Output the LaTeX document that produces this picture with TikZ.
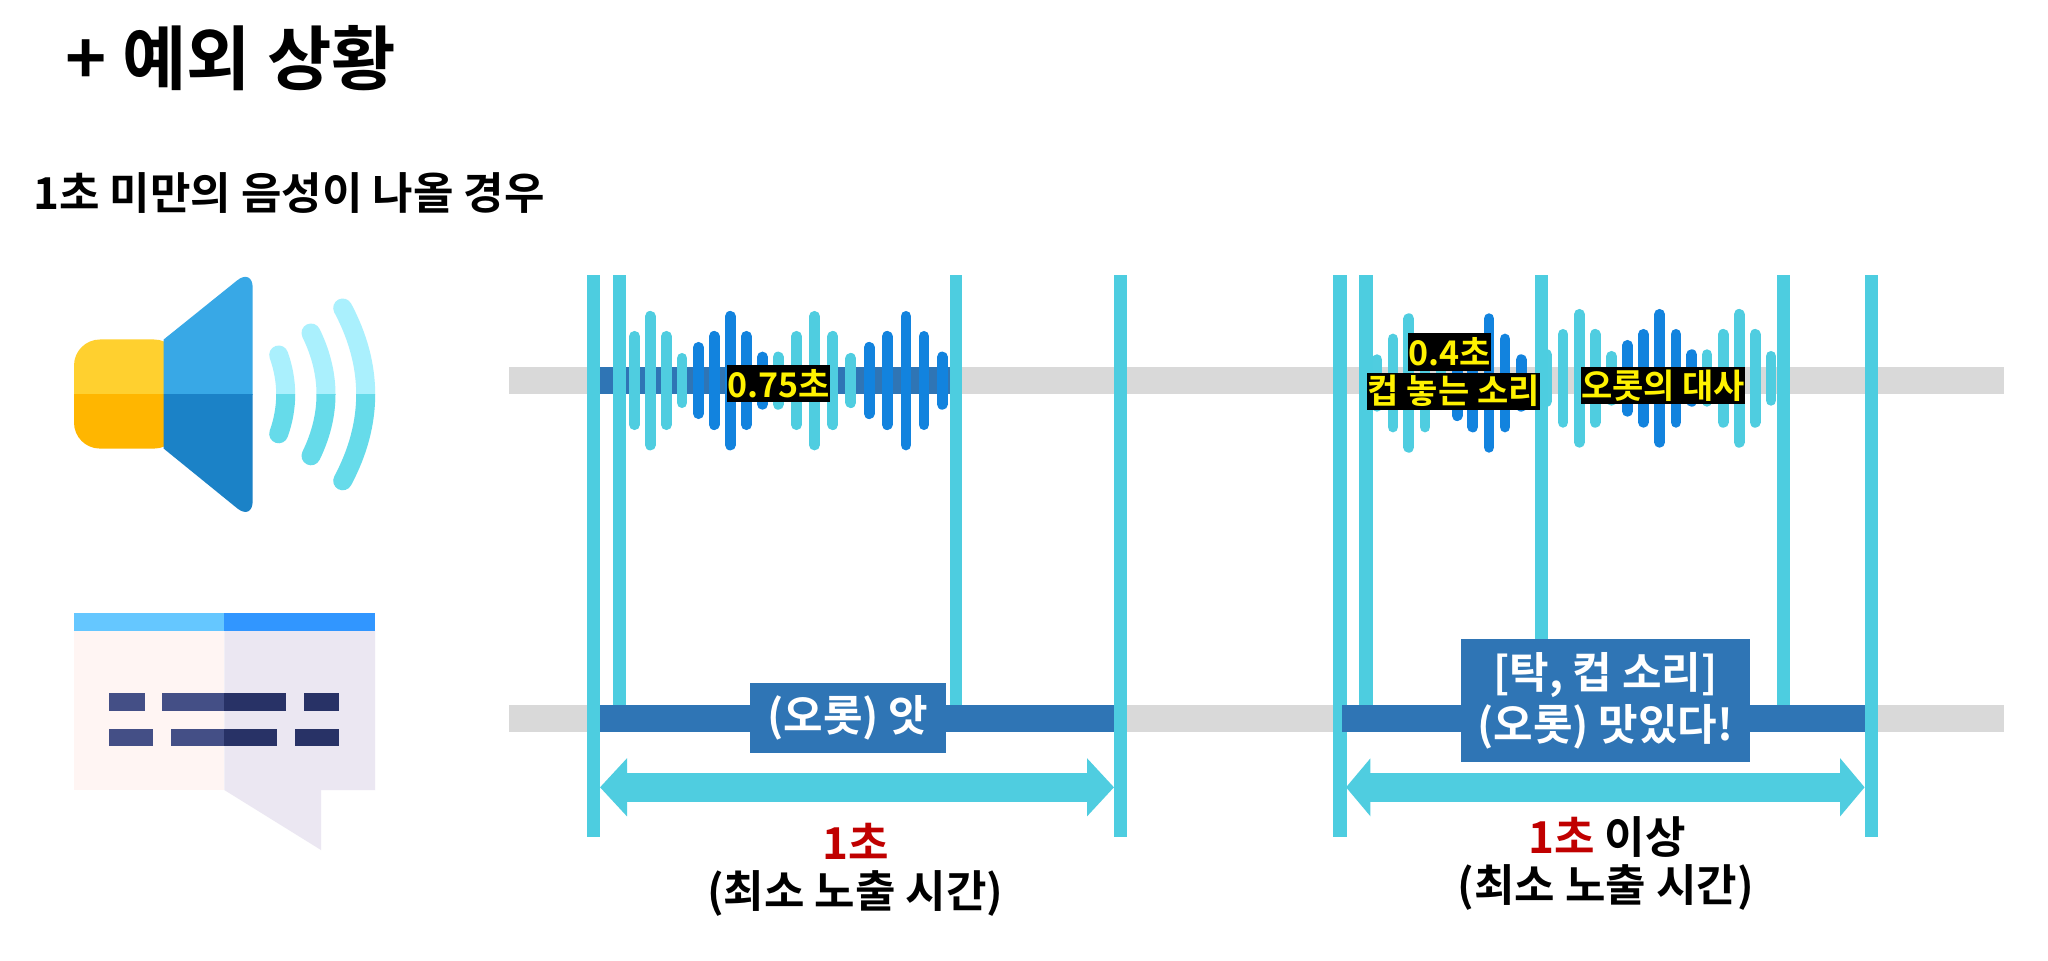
\documentclass[tikz,border=0pt]{standalone}
\usepackage{fontspec}
\usetikzlibrary{arrows.meta}
\setmainfont{Noto Sans CJK KR}[BoldFont={Noto Sans CJK KR Bold}]
\definecolor{cyanbar}{HTML}{4DCDE0}
\definecolor{wavecyan}{HTML}{4FCDE0}
\definecolor{waveblue}{HTML}{1283DE}
\definecolor{bandblue}{HTML}{2F75B5}
\definecolor{bandgrey}{HTML}{D9D9D9}
\definecolor{redtxt}{HTML}{C00000}
\tikzset{
  vbar/.style={fill=cyanbar},
  greyband/.style={fill=bandgrey},
  blueband/.style={fill=bandblue},
  capbox/.style={fill=black,text=yellow,inner sep=0pt,font=\bfseries\fontsize{17}{19}\selectfont,anchor=center,align=center},
  bluebox/.style={fill=bandblue,text=white,inner sep=0pt,font=\bfseries\fontsize{21.5}{26}\selectfont,align=center},
  lbl/.style={inner sep=0pt,font=\bfseries\fontsize{22}{26}\selectfont,align=center},
  wave/.style={line width=5.4pt,line cap=round},
  dimarrow/.style={draw=wavecyan,line width=14.3pt},
  tipA/.style={{Triangle[length=13.5pt,width=28.3pt]}-{Triangle[length=13.5pt,width=28.3pt]}},
  tipB/.style={{Triangle[length=12.2pt,width=28.3pt]}-{Triangle[length=12.2pt,width=28.3pt]}},
}
\begin{document}
\begin{tikzpicture}[x=0.5pt,y=-0.5pt]
\useasboundingbox (0,0) rectangle (2048,961);
\fill[white] (0,0) rectangle (2048,961);
% titles
\node[anchor=west,inner sep=0pt,font=\bfseries\fontsize{35}{40}\selectfont] (title) at (65,58) {+ 예외 상황};
\node[anchor=west,inner sep=0pt,font=\bfseries\fontsize{22}{25}\selectfont] (sub) at (33,193) {1초 미만의 음성이 나올 경우};
% speaker icon
\begin{scope}
\clip (60,260) rectangle (400,394.4);
\fill[rounded corners=13pt,color={rgb,255:red,255;green,208;blue,47}] (180,339.5) -- (74,339.5) -- (74,448.6) -- (180,448.6) -- cycle;
\fill[color={rgb,255:red,56;green,168;blue,230}] (163.7,339.5) [rounded corners=10pt] -- (252.7,267.9) -- (252.7,520.9) [sharp corners] -- (163.7,448.6) -- cycle;
\foreach \xa/\xm/\ya in {278.7/285.7/355, 311/326/333, 342.7/365.7/308}{
  \pgfmathsetmacro\xc{\xa+(\xm-\xa)*4/3}
  \pgfmathsetmacro\yb{788.8-\ya}
  \pgfmathsetmacro\yc{\ya+(394.4-\ya)*2/3}
  \pgfmathsetmacro\yd{788.8-\yc}
  \draw[line width=9.5pt,line cap=round,color={rgb,255:red,170;green,240;blue,253}] (\xa,\ya) .. controls (\xc,\yc) and (\xc,\yd) .. (\xa,\yb);
}
\end{scope}
\begin{scope}
\clip (60,394.4) rectangle (400,530);
\fill[rounded corners=13pt,color={rgb,255:red,255;green,182;blue,0}] (180,339.5) -- (74,339.5) -- (74,448.6) -- (180,448.6) -- cycle;
\fill[color={rgb,255:red,27;green,130;blue,199}] (163.7,339.5) [rounded corners=10pt] -- (252.7,267.9) -- (252.7,520.9) [sharp corners] -- (163.7,448.6) -- cycle;
\foreach \xa/\xm/\ya in {278.7/285.7/355, 311/326/333, 342.7/365.7/308}{
  \pgfmathsetmacro\xc{\xa+(\xm-\xa)*4/3}
  \pgfmathsetmacro\yb{788.8-\ya}
  \pgfmathsetmacro\yc{\ya+(394.4-\ya)*2/3}
  \pgfmathsetmacro\yd{788.8-\yc}
  \draw[line width=9.5pt,line cap=round,color={rgb,255:red,102;green,219;blue,234}] (\xa,\ya) .. controls (\xc,\yc) and (\xc,\yd) .. (\xa,\yb);
}
\end{scope}
% subtitle icon
\fill[color={rgb,255:red,101;green,199;blue,255}] (74,613) rectangle (224.3,631);
\fill[color={rgb,255:red,49;green,150;blue,255}] (224.3,613) rectangle (375,631);
\fill[color={rgb,255:red,255;green,245;blue,243}] (74,631) rectangle (224.3,790);
\fill[color={rgb,255:red,235;green,231;blue,242}] (224.3,631) -- (375,631) -- (375,790) -- (321,790) -- (321,850) -- (224.3,790) -- cycle;
\foreach \xa/\xb/\ya/\yb in {109/144.7/693/711, 162/224.3/693/711, 109/153/728.6/746, 171/224.3/728.6/746}
  \fill[color={rgb,255:red,68;green,79;blue,134}] (\xa,\ya) rectangle (\xb,\yb);
\foreach \xa/\xb/\ya/\yb in {224.3/286/693/711, 303.7/339/693/711, 224.3/277/728.6/746, 295/339/728.6/746}
  \fill[color={rgb,255:red,40;green,50;blue,102}] (\xa,\ya) rectangle (\xb,\yb);
% grey bands and the top dark band
\fill[greyband] (509,367) rectangle (2004,394);
\fill[greyband] (509,705) rectangle (2004,732);
\fill[blueband] (600,367) rectangle (950,394);
% waves, panel 1
\begin{scope}[shift={(560,260)},x=0.19135pt,y=-0.16667pt]
\foreach \c/\xx/\a/\b in {wavecyan/195/213/510, wavecyan/236/153/571, wavecyan/278/213/510, wavecyan/319/279/444,
  waveblue/362/246/477, waveblue/403/213/510, waveblue/445/153/571, waveblue/487/213/510, waveblue/529/275/449,
  wavecyan/570/275/449, wavecyan/618/213/510, wavecyan/665/153/571, wavecyan/713/213/510, wavecyan/760/279/444,
  waveblue/808/246/477, waveblue/855/213/510, waveblue/904/153/571, waveblue/951/213/510, waveblue/999/275/449}
  \draw[wave,color=\c] (\xx,\a+16) -- (\xx,\b-16);
\end{scope}
% waves, panel 2
\begin{scope}[shift={(1320,260)},x=0.18498pt,y=-0.16667pt]
\foreach \c/\xx/\a/\b in {wavecyan/154/283/455, wavecyan/197/221/517, wavecyan/240/160/578, wavecyan/284/221/517, wavecyan/327/288/450,
  waveblue/371/250/483, waveblue/413/221/517, waveblue/457/160/578, waveblue/500/221/517, waveblue/544/283/455,
  wavecyan/613/268/440, wavecyan/657/207/503, wavecyan/701/147/563, wavecyan/744/207/503, wavecyan/788/273/437,
  waveblue/831/240/470, waveblue/874/207/503, waveblue/918/147/563, waveblue/962/207/503, waveblue/1005/268/440,
  wavecyan/1046/268/440, wavecyan/1090/207/503, wavecyan/1133/147/563, wavecyan/1176/207/503, wavecyan/1219/273/437}
  \draw[wave,color=\c] (\xx,\a+16) -- (\xx,\b-16);
\end{scope}
% vertical markers
\foreach \xa/\xb/\yb in {587/600/836.7, 613/626/705, 950/962/705, 1114/1127/836.7,
  1333/1347/836.7, 1359/1373/705, 1535/1548/650, 1776.5/1790/705, 1865/1878/836.7}
  \fill[vbar] (\xa,275) rectangle (\xb,\yb);
% bottom bands
\fill[blueband] (600,705) rectangle (1114,732);
\fill[blueband] (1341.5,705) rectangle (1865,732);
% captions
\node[capbox,minimum width=50.15pt,minimum height=18.65pt] (cap75) at (778.5,383.6) {0.75초};
\node[capbox,minimum width=39.95pt,minimum height=18.7pt] (cap04) at (1449.5,352) {0.4초};
\node[capbox,minimum width=86.75pt,minimum height=18.5pt] (capcup) at (1453.7,391.2) {컵 놓는 소리};
\node[capbox,minimum width=81.55pt,minimum height=18.5pt] (capline) at (1663.2,385.5) {오롯의 대사};
% subtitle boxes
\node[bluebox,minimum width=98pt,minimum height=34.85pt] (sub1) at (848,717.9) {(오롯) 앗};
\node[bluebox,minimum width=144.7pt,minimum height=61.2pt] (sub2) at (1605.3,700.5) {[탁, 컵 소리]\\(오롯) 맛있다!};
% duration arrows
\coordinate (a1l) at (600,787.3);
\coordinate (a1r) at (1114,787.3);
\coordinate (a2l) at (1346,787.3);
\coordinate (a2r) at (1864.6,787.3);
\draw[dimarrow,tipA] (a1l) -- (a1r);
\draw[dimarrow,tipB] (a2l) -- (a2r);
% duration labels
\node[lbl] (l1) at (856,841) {\textcolor{redtxt}{1초}};
\node[lbl] (l2) at (855.4,893.5) {(최소 노출 시간)};
\node[lbl] (r1) at (1607,837.5) {\textcolor{redtxt}{1초} 이상};
\node[lbl] (r2) at (1605.6,887.5) {(최소 노출 시간)};
\end{tikzpicture}
\end{document}
